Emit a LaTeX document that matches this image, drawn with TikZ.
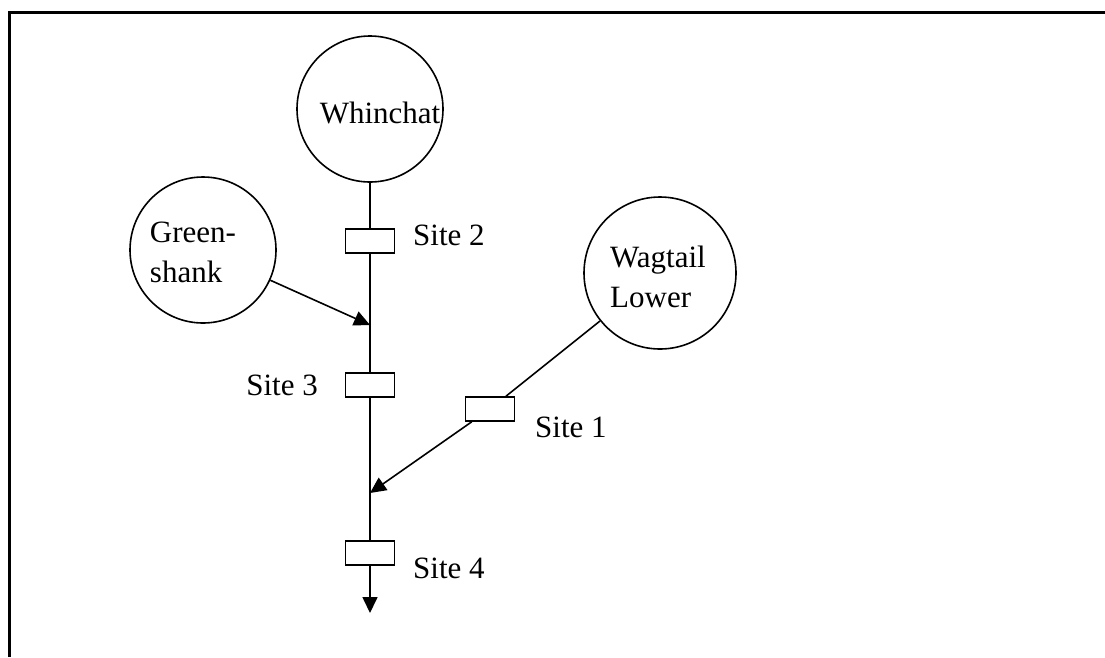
\documentclass[tikz,border=0pt]{standalone}
\usepackage{fontspec}
\setmainfont{Liberation Serif}
\usetikzlibrary{arrows.meta}
\begin{document}
\begin{tikzpicture}[x=1pt,y=-1pt,
  pond/.style={draw,circle,line width=1.6pt,minimum size=146pt,inner sep=0pt},
  sitebox/.style={draw,rectangle,line width=1.6pt,minimum width=49pt,minimum height=24pt,inner sep=0pt,fill=white},
  lbl/.style={font=\fontsize{31}{40}\selectfont,inner sep=0pt,align=left},
  flow/.style={line width=1.6pt},
  flowarr/.style={line width=1.6pt,-{Triangle[length=16pt,width=15pt]}}]
\useasboundingbox (0,0) rectangle (1105,657);
\draw[line width=3pt] (9,657) -- (9,12) -- (1105,12);
% ponds
\node[pond] (whin) at (370,109) {};
\node[lbl] (whintxt) at (380,113) {Whinchat};
\node[pond] (green) at (203,250) {};
\node[lbl] (greentxt) at (193,252) {Green-\\shank};
\node[pond,minimum size=152pt] (wag) at (660,273) {};
\node[lbl] (wagtxt) at (658,277) {Wagtail\\Lower};
% sites
\node[sitebox] (s2) at (370,241) {};
\node[sitebox] (s3) at (370,385) {};
\node[sitebox] (s4) at (370,553) {};
\node[sitebox] (s1) at (490,409) {};
\node[lbl,anchor=west] (s2txt) at (413,235) {Site 2};
\node[lbl,anchor=east] (s3txt) at (318,385) {Site 3};
\node[lbl,anchor=west] (s1txt) at (535,427) {Site 1};
\node[lbl,anchor=west] (s4txt) at (413,568) {Site 4};
% junctions
\coordinate (m1) at (370,325);
\coordinate (m2) at (370,493);
\coordinate (out) at (370,613);
% flows
\draw[flow] (whin) -- (s2) -- (s3) -- (s4);
\draw[flowarr] (s4) -- (out);
\draw[flowarr] (green) -- (m1);
\draw[flow] (wag) -- (s1);
\draw[flowarr] (s1) -- (m2);
\end{tikzpicture}
\end{document}
